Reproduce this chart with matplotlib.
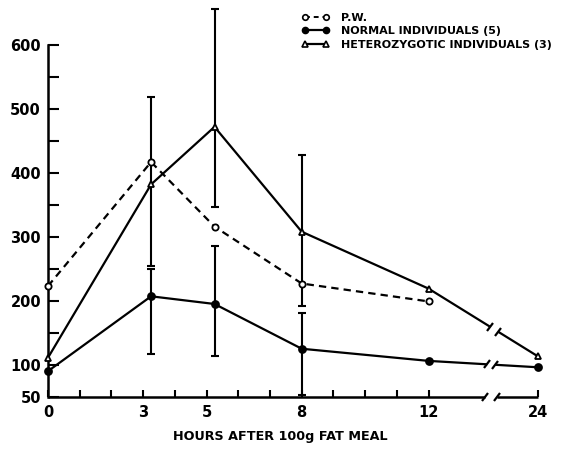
import numpy as np
import matplotlib
matplotlib.use("Agg")
import matplotlib.pyplot as plt
from matplotlib.markers import MarkerStyle
from matplotlib.transforms import Affine2D

# ---------------- data ----------------
hours = [0, 3.25, 5.25, 8, 12, 24]
pw_hours = [0, 3.25, 5.25, 8, 12]
pw_values = [223, 417, 316, 227, 199]
normal_values = [90, 207, 195, 125, 106, 96]
hetero_values = [111, 382, 472, 308, 219, 113]

err_hours = [3.25, 5.25, 8]
normal_err_low = [117, 114, 52]
normal_err_high = [249, 286, 181]
hetero_err_low = [254, 347, 192]
hetero_err_high = [518, 656, 428]

xtick_values = [0, 3, 5, 8, 12, 24]
ytick_values = [50, 100, 200, 300, 400, 500, 600]
legend_labels = ["P.W.", "NORMAL INDIVIDUALS (5)", "HETEROZYGOTIC INDIVIDUALS (3)"]
xlabel = "HOURS AFTER 100g FAT MEAL"

# ---------------- broken x scale: 0-12 linear, 24 placed after a break ----------------
POS24 = 15.45
def xpos(h):
    h = np.asarray(h, dtype=float)
    return np.where(h <= 12, h, POS24)

FONT = "DejaVu Sans"
plt.rcParams["font.family"] = [FONT]

fig = plt.figure(figsize=(5.61, 4.49), dpi=100)
ax = fig.add_axes([48 / 561, 1 - 396.7 / 449, (538 - 48) / 561, (396.7 - 45) / 449])
ax.set_xlim(0, POS24)
ax.set_ylim(50, 600)

LW = 1.6
slash = MarkerStyle("|", transform=Affine2D().rotate_deg(-35))

def draw_series(xh, yv, marker, ms, mfc, ls, break_gap=None):
    xp = xpos(xh)
    yv = np.asarray(yv, dtype=float)
    kw = dict(color="black", lw=LW, ls=ls, zorder=2, solid_capstyle="butt")
    if ls == "--":
        kw["dashes"] = (3.3, 2.3)
    if break_gap is not None and xp[-1] > 12:
        ax.plot(xp[:-1], yv[:-1], **kw)
        g0, g1 = break_gap
        y0 = np.interp(g0, [xp[-2], xp[-1]], [yv[-2], yv[-1]])
        y1 = np.interp(g1, [xp[-2], xp[-1]], [yv[-2], yv[-1]])
        ax.plot([xp[-2], g0], [yv[-2], y0], **kw)
        ax.plot([g1, xp[-1]], [y1, yv[-1]], **kw)
        ax.plot([g0, g1], [y0, y1], ls="none", marker=slash, ms=7, mew=LW,
                color="black", zorder=2)
    else:
        ax.plot(xp, yv, **kw)
    ax.plot(xp, yv, ls="none", marker=marker, ms=ms, mfc=mfc, mec="black",
            mew=1.3, zorder=4, clip_on=False)

def draw_err(xh, lo, hi, center):
    xp = xpos(xh)
    center = np.asarray(center, dtype=float)
    lo = np.asarray(lo, dtype=float)
    hi = np.asarray(hi, dtype=float)
    ax.errorbar(xp, center, yerr=[center - lo, hi - center], fmt="none",
                ecolor="black", elinewidth=1.5, capsize=3, capthick=1.5,
                zorder=1, clip_on=False)

norm_center = [normal_values[hours.index(h)] for h in err_hours]
het_center = [hetero_values[hours.index(h)] for h in err_hours]
draw_err(err_hours, hetero_err_low, hetero_err_high, het_center)
draw_err(err_hours, normal_err_low, normal_err_high, norm_center)

draw_series(pw_hours, pw_values, "o", 4.5, "white", "--")
draw_series(hours, normal_values, "o", 5, "black", "-", break_gap=(13.85, 14.1))
draw_series(hours, hetero_values, "^", 5, "white", "-", break_gap=(13.95, 14.2))

# ---------------- axes styling ----------------
for s in ["top", "right", "bottom"]:
    ax.spines[s].set_visible(False)
ax.spines["left"].set_linewidth(1.8)

ax.plot([0, 13.79], [50, 50], color="black", lw=1.8, clip_on=False, zorder=3,
        solid_capstyle="butt")
ax.plot([14.16, POS24], [50, 50], color="black", lw=1.8, clip_on=False, zorder=3,
        solid_capstyle="butt")
ax.plot([13.79, 14.16], [50, 50], ls="none", marker=slash, ms=7, mew=1.6,
        color="black", clip_on=False, zorder=3)

minor_hours = list(range(0, 13)) + [24]
ax.set_xticks(xpos(minor_hours), minor=True)
ax.set_xticks(xpos(xtick_values))
ax.set_xticklabels([str(v) for v in xtick_values])
ax.tick_params(axis="x", which="both", direction="in", length=5, width=1.5,
               pad=6, labelsize=10.5)
ax.set_yticks(np.arange(50, 601, 50), minor=True)
ax.set_yticks(ytick_values)
ax.set_yticklabels([str(v) for v in ytick_values])
ax.tick_params(axis="y", which="both", direction="in", length=8, width=1.5,
               pad=5, labelsize=10.5)
for lab in ax.get_xticklabels() + ax.get_yticklabels():
    lab.set_fontweight("bold")

ax.set_xlabel(xlabel, fontsize=9.2, fontweight="bold")
ax.xaxis.set_label_coords((280 - 48) / (538 - 48), -0.095)

# ---------------- legend ----------------
h_pw, = ax.plot([], [], color="black", lw=1.4, ls="--", dashes=(2.5, 2),
                marker="o", ms=4, mfc="white", mec="black", mew=1.2)
h_n, = ax.plot([], [], color="black", lw=1.6, marker="o", ms=4.5, mfc="black")
h_h, = ax.plot([], [], color="black", lw=1.6, marker="^", ms=4.5, mfc="white",
               mec="black", mew=1.2)
leg = fig.legend([h_pw, h_n, h_h], legend_labels, loc="upper left",
                 bbox_to_anchor=(292 / 561, 1 - 3 / 449), frameon=False,
                 numpoints=2, handlelength=2.5, handletextpad=1.0,
                 labelspacing=0.3, prop={"family": FONT, "weight": "bold",
                                         "size": 8.0})

fig.savefig("out.png", dpi=100)
